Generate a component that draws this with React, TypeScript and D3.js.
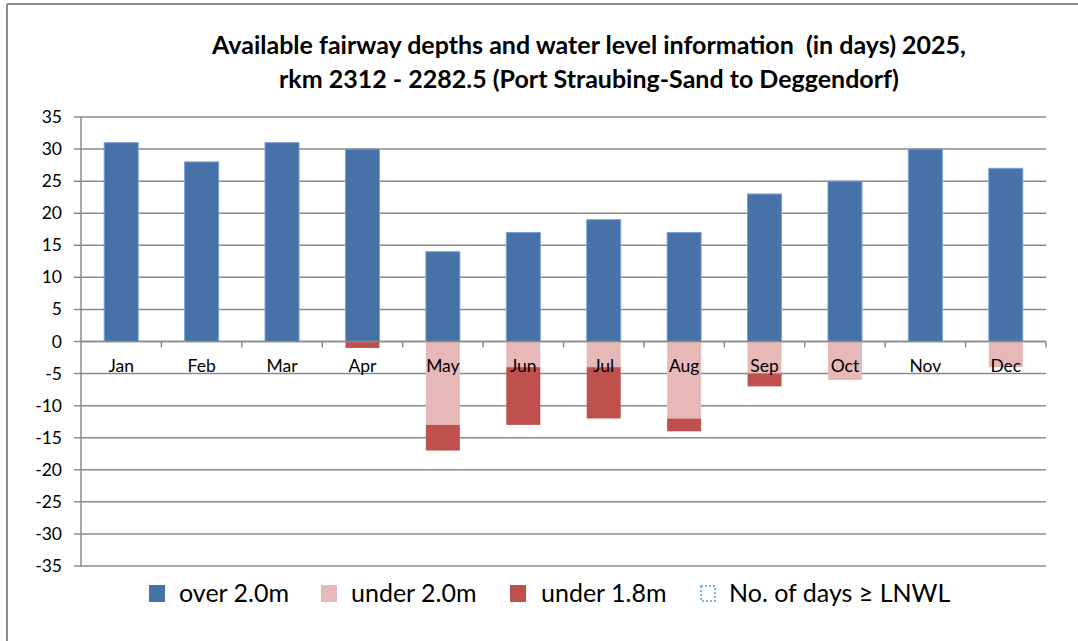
import React from 'react';
import * as d3 from 'd3';

const months = ['Jan', 'Feb', 'Mar', 'Apr', 'May', 'Jun', 'Jul', 'Aug', 'Sep', 'Oct', 'Nov', 'Dec'];
const over20 = [31, 28, 31, 30, 14, 17, 19, 17, 23, 25, 30, 27];
const under20 = [0, 0, 0, 0, 13, 4, 4, 12, 5, 6, 0, 4];
const under18 = [0, 0, 0, 1, 4, 9, 8, 2, 2, 0, 0, 0];
const yTicks = [35, 30, 25, 20, 15, 10, 5, 0, -5, -10, -15, -20, -25, -30, -35];
const legendLabels = ['over 2.0m', 'under 2.0m', 'under 1.8m', 'No. of days \u2265 LNWL'];

const FONT = 'Lato, "Open Sans", sans-serif';
const BLUE = '#4672a8';
const BLUE_EDGE = '#7aa0d4';
const PINK = '#e6b9b8';
const RED = '#c0504d';

export default function App() {
  const width = 1078;
  const height = 641;
  const left = 81;
  const right = 1046;

  const x = d3.scaleBand<string>().domain(months).range([left, right]);
  const y = d3.scaleLinear().domain([-35, 35]).range([566, 117]);
  const bw = 34;

  // legend slot positions (square, text)
  const legendSquareX = [149, 321, 510, 700];
  const legendTextX = [179, 351, 541, 729];
  const legendColors = [BLUE, PINK, RED, 'none'];

  return (
    <svg width={width} height={height} style={{ position: 'absolute', left: 0, top: 0, background: '#fff' }}>
      <line x1={7} x2={width} y1={4} y2={4} stroke="#8c8c8c" strokeWidth={2} />
      <line x1={7} x2={7} y1={4} y2={height} stroke="#8c8c8c" strokeWidth={2} />

      <text x={589} y={54} textAnchor="middle" fontFamily={FONT} fontWeight="bold" fontSize={25} fill="#000" style={{ whiteSpace: 'pre' }}>
        {'Available fairway depths and water level information  (in days) 2025,'}
      </text>
      <text x={589} y={88} textAnchor="middle" fontFamily={FONT} fontWeight="bold" fontSize={25} fill="#000">
        rkm 2312 - 2282.5 (Port Straubing-Sand to Deggendorf)
      </text>

      {yTicks.map((t) => (
        <g key={t}>
          <line x1={74} x2={right} y1={y(t)} y2={y(t)} stroke="#8a8a8a" strokeWidth={1.5} />
          <text x={62} y={y(t) + 6} textAnchor="end" fontFamily={FONT} fontSize={17.5} fill="#000">{t}</text>
        </g>
      ))}
      <line x1={left} x2={left} y1={y(35)} y2={y(-35)} stroke="#8a8a8a" strokeWidth={1.5} />

      {months.map((m, i) => {
        const cx = (x(m) as number) + x.bandwidth() / 2;
        const bx = cx - bw / 2;
        return (
          <g key={m}>
            <rect x={bx} y={y(over20[i])} width={bw} height={y(0) - y(over20[i])} fill={BLUE} stroke={BLUE_EDGE} strokeWidth={1} />
            {under20[i] > 0 && (
              <rect x={bx} y={y(0)} width={bw} height={y(-under20[i]) - y(0)} fill={PINK} />
            )}
            {under18[i] > 0 && (
              <rect x={bx} y={y(-under20[i])} width={bw} height={y(-under20[i] - under18[i]) - y(-under20[i])} fill={RED} />
            )}
          </g>
        );
      })}

      {months.map((m) => (
        <line key={m} x1={(x(m) as number) + x.bandwidth()} x2={(x(m) as number) + x.bandwidth()} y1={y(0)} y2={y(0) + 6} stroke="#8a8a8a" strokeWidth={1.5} />
      ))}
      <line x1={left} x2={right} y1={y(0)} y2={y(0)} stroke="#8a8a8a" strokeWidth={1.5} />

      {months.map((m) => (
        <text key={m} x={(x(m) as number) + x.bandwidth() / 2} y={372} textAnchor="middle" fontFamily={FONT} fontSize={17.5} fill="#000">{m}</text>
      ))}

      {legendLabels.map((label, i) => (
        <g key={label}>
          {legendColors[i] === 'none' ? (
            <rect x={legendSquareX[i] + 1} y={586} width={14} height={15} fill="none" stroke="#5b9bd5" strokeWidth={1.5} strokeDasharray="2,2" />
          ) : (
            <rect x={legendSquareX[i]} y={585} width={16} height={17} fill={legendColors[i]} />
          )}
          <text x={legendTextX[i]} y={602} fontFamily={FONT} fontSize={25} fill="#000">{label}</text>
        </g>
      ))}
    </svg>
  );
}
